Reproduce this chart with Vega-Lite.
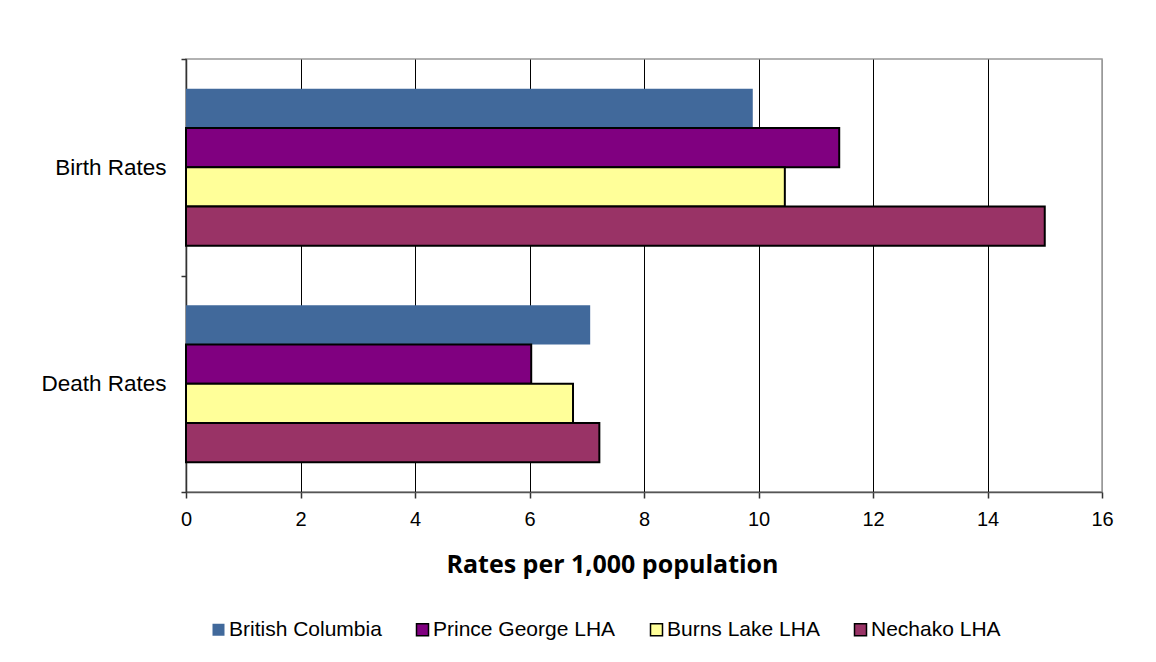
{
  "$schema": "https://vega.github.io/schema/vega-lite/v6.json",
  "width": 916,
  "height": 433,
  "autosize": {"type": "none"},
  "padding": {"left": 186, "top": 59, "right": 54, "bottom": 170},
  "background": "white",
  "config": {
    "view": {"stroke": "#999999", "strokeWidth": 1.5},
    "font": "Liberation Sans"
  },
  "data": {
    "values": [
      {"measure": "Birth Rates", "series": "British Columbia", "rate": 9.9},
      {"measure": "Birth Rates", "series": "Prince George LHA", "rate": 11.41},
      {"measure": "Birth Rates", "series": "Burns Lake LHA", "rate": 10.46},
      {"measure": "Birth Rates", "series": "Nechako LHA", "rate": 15.0},
      {"measure": "Death Rates", "series": "British Columbia", "rate": 7.06},
      {"measure": "Death Rates", "series": "Prince George LHA", "rate": 6.03},
      {"measure": "Death Rates", "series": "Burns Lake LHA", "rate": 6.76},
      {"measure": "Death Rates", "series": "Nechako LHA", "rate": 7.22}
    ]
  },
  "mark": {"type": "bar", "strokeWidth": 2},
  "encoding": {
    "y": {
      "field": "measure",
      "type": "nominal",
      "sort": ["Birth Rates", "Death Rates"],
      "scale": {"paddingInner": 0, "paddingOuter": 0},
      "axis": {
        "title": null,
        "domainColor": "#333333",
        "domainWidth": 1.5,
        "tickBand": "extent",
        "tickSize": 5,
        "tickColor": "#333333",
        "tickWidth": 1.5,
        "labelFont": "Liberation Sans",
        "labelFontSize": 22.5,
        "labelColor": "#000000",
        "labelPadding": 15,
        "grid": false
      }
    },
    "yOffset": {
      "field": "series",
      "type": "nominal",
      "sort": ["British Columbia", "Prince George LHA", "Burns Lake LHA", "Nechako LHA"],
      "scale": {"paddingInner": 0, "paddingOuter": 0.755}
    },
    "x": {
      "field": "rate",
      "type": "quantitative",
      "scale": {"domain": [0, 16], "nice": false},
      "axis": {
        "values": [0, 2, 4, 6, 8, 10, 12, 14, 16],
        "grid": true,
        "gridColor": {"condition": {"test": "datum.value === 16", "value": "#999999"}, "value": "#000000"},
        "gridWidth": 1,
        "domainColor": "#555555",
        "domainWidth": 1.5,
        "tickColor": "#333333",
        "tickWidth": 1.5,
        "tickSize": 6,
        "labelFlush": false,
        "labelFont": "Liberation Sans",
        "labelFontSize": 20,
        "labelColor": "#000000",
        "labelPadding": 11,
        "title": "Rates per 1,000 population",
        "titleFont": "Open Sans",
        "titleFontWeight": "bold",
        "titleFontSize": 25,
        "titleColor": "#000000",
        "titleAnchor": "middle",
        "titleAlign": "center",
        "titleX": 426,
        "titlePadding": 23
      }
    },
    "fill": {
      "field": "series",
      "type": "nominal",
      "sort": ["British Columbia", "Prince George LHA", "Burns Lake LHA", "Nechako LHA"],
      "scale": {
        "domain": ["British Columbia", "Prince George LHA", "Burns Lake LHA", "Nechako LHA"],
        "range": ["#41699b", "#800080", "#ffff99", "#993366"]
      },
      "legend": {
        "title": null,
        "orient": "none",
        "direction": "horizontal",
        "columns": 4,
        "legendX": 22,
        "legendY": 560,
        "padding": 0,
        "symbolType": "square",
        "symbolSize": 144,
        "symbolStrokeWidth": 1.5,
        "labelFont": "Liberation Sans",
        "labelFontSize": 21,
        "labelColor": "#000000",
        "labelLimit": 400,
        "labelOffset": 0,
        "columnPadding": 30
      }
    },
    "stroke": {
      "field": "series",
      "type": "nominal",
      "sort": ["British Columbia", "Prince George LHA", "Burns Lake LHA", "Nechako LHA"],
      "scale": {
        "domain": ["British Columbia", "Prince George LHA", "Burns Lake LHA", "Nechako LHA"],
        "range": ["transparent", "#000000", "#000000", "#000000"]
      },
      "legend": {
        "title": null,
        "orient": "none",
        "direction": "horizontal",
        "columns": 4,
        "legendX": 22,
        "legendY": 560,
        "padding": 0,
        "symbolType": "square",
        "symbolSize": 144,
        "symbolStrokeWidth": 1.5,
        "labelFont": "Liberation Sans",
        "labelFontSize": 21,
        "labelColor": "#000000",
        "labelLimit": 400,
        "labelOffset": 0,
        "columnPadding": 30
      }
    }
  }
}
